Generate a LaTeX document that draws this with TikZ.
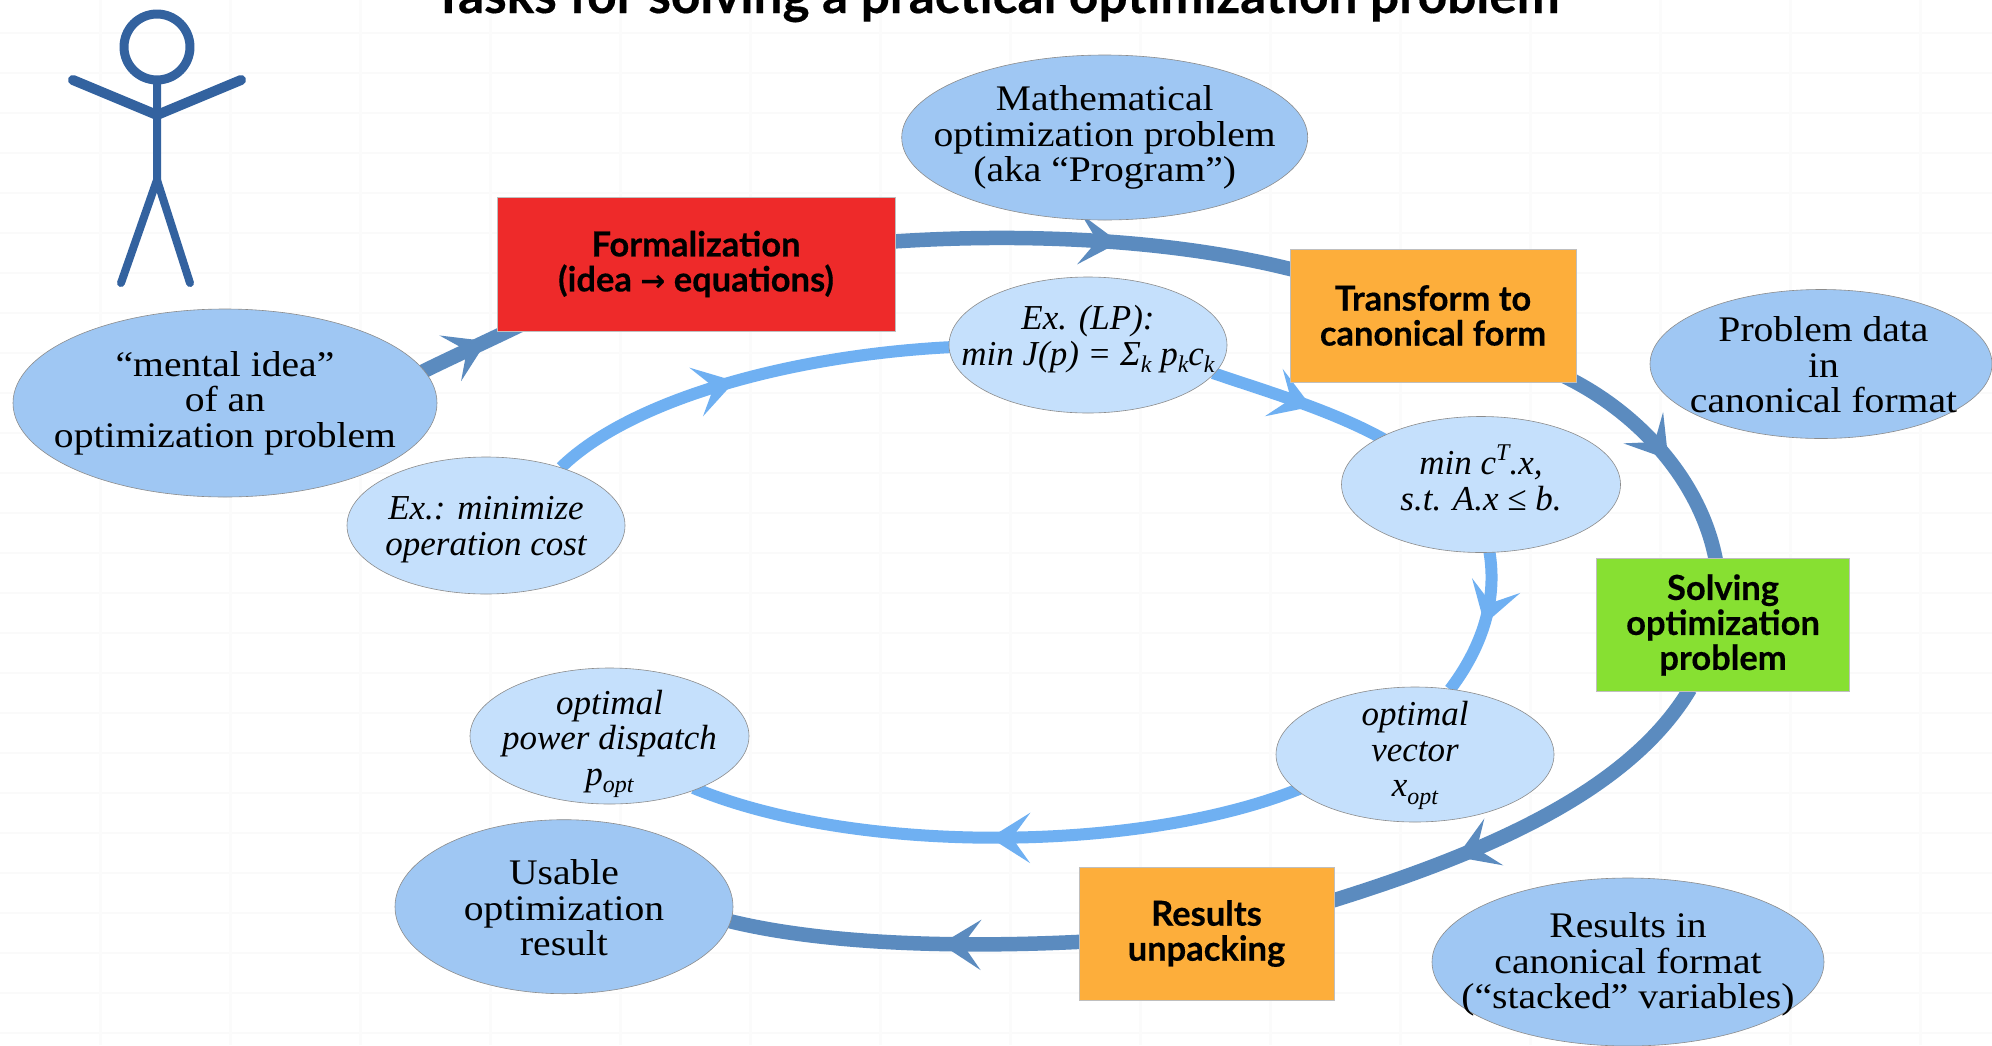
\documentclass[tikz,border=0pt]{standalone}
\usepackage{fontspec}
\setmainfont{Liberation Serif}
\newfontfamily\boxfont{Lato}[BoldFeatures={FakeBold=0.35}]
\newfontfamily\arrowfont{DejaVu Sans}
\newfontfamily\romanwide{Liberation Serif}[FakeStretch=1.1]
\usetikzlibrary{shapes.geometric,arrows.meta,decorations.markings,calc}
\pgfdeclarelayer{conn}
\pgfsetlayers{conn,main}
\definecolor{ellDark}{HTML}{9FC7F3}
\definecolor{ellLight}{HTML}{C5E0FC}
\definecolor{edgeDark}{HTML}{5B8BBF}
\definecolor{edgeLight}{HTML}{6FB0F2}
\definecolor{manBlue}{HTML}{33629F}
\definecolor{boxRed}{HTML}{EE2A2A}
\definecolor{boxOrange}{HTML}{FDAE3B}
\definecolor{boxGreen}{HTML}{87E032}
\newcommand{\lsub}[1]{\raisebox{-0.22em}{\fontsize{24}{24}\selectfont #1}}
\newcommand{\lsup}[1]{\raisebox{0.42em}{\fontsize{24}{24}\selectfont #1}}
\tikzset{
  ellbase/.style={ellipse,draw=black!45,line width=0.6pt,inner sep=0pt},
  elldark/.style={ellbase,fill=ellDark},
  elllight/.style={ellbase,fill=ellLight},
  elltext/.style={align=center,inner sep=0pt,font=\romanwide\fontsize{36}{35.5}\selectfont},
  elltextit/.style={align=center,inner sep=0pt,font=\fontsize{35}{35.5}\selectfont\itshape},
  taskbox/.style={rectangle,draw=black!25,line width=0.7pt,align=center,inner sep=0pt,
    font=\boxfont\bfseries\fontsize{34.5}{35}\selectfont},
  flowhead/.style={decoration={markings,mark=at position #1 with
    {\arrow{Stealth[length=40pt,width=50pt,inset=18pt]}}}},
  darkflow/.style={draw=edgeDark,line width=14.5pt,flowhead=#1,postaction={decorate}},
  lightflow/.style={draw=edgeLight,line width=12pt,flowhead=#1,postaction={decorate}},
  manline/.style={draw=manBlue,line cap=round,line join=round}
}
\begin{document}
\begin{tikzpicture}[x=1pt,y=-1pt]
\useasboundingbox (0,0) rectangle (1992,1045);
\begin{pgfonlayer}{conn}
  \fill[white] (0,0) rectangle (1992,1045);
  \foreach \yy in {33,73,...,1033} \draw[color=black!2,line width=2.5pt] (0,\yy) -- (1992,\yy);
  \foreach \xx in {100,230,...,1950} \draw[color=black!1.5,line width=3pt] (\xx,0) -- (\xx,1045);
\end{pgfonlayer}

% title
\node[anchor=base,inner sep=0pt,font=\boxfont\bfseries\fontsize{51.4}{55}\selectfont] (title) at (996,13)
  {Tasks for solving a practical optimization problem};

% stick figure
\draw[manline,line width=9pt] (157,47) circle[radius=33];
\draw[manline,line width=8pt] (157,82) -- (157,180) -- (121,283);
\draw[manline,line width=8pt] (157,180) -- (190,283);
\draw[manline,line width=10pt] (73,80) -- (157,115) -- (241,80);

% ellipses
\node[elldark,minimum width=424pt,minimum height=188pt,label={[elltext]center:{“mental idea”\\of an\\optimization problem}}] (mental) at (225,403) {};
\node[elldark,minimum width=406pt,minimum height=165pt,label={[elltext]center:{Mathematical\\optimization problem\\(aka “Program”)}}] (program) at (1104.7,137.5) {};
\node[elldark,minimum width=342pt,minimum height=149pt,label={[elltext,xshift=2.5pt,yshift=-1pt]center:{Problem data\\in\\canonical format}}] (pdata) at (1821,364) {};
\node[elldark,minimum width=338pt,minimum height=174pt,label={[elltext,yshift=-1pt]center:{Usable\\optimization\\result}}] (usable) at (564,906.7) {};
\node[elldark,minimum width=392pt,minimum height=168pt,label={[elltext,yshift=-2.5pt]center:{Results in\\canonical format\\(“stacked” variables)}}] (rescan) at (1628,962) {};

\node[elllight,minimum width=278pt,minimum height=137pt,label={[elltextit,yshift=-4pt]center:{Ex.: minimize\\operation cost}}] (exmin) at (486,525.5) {};
\node[elllight,minimum width=278pt,minimum height=136pt,label={[elltextit,yshift=6pt]center:{Ex. (LP):\\min J(p) = Σ\lsub{k} p\lsub{k}c\lsub{k}}}] (exlp) at (1088,345) {};
\node[elllight,minimum width=279pt,minimum height=136pt,label={[elltextit,yshift=7pt]center:{min c\lsup{T}.x,\\s.t. A.x ≤ b.}}] (canon) at (1481,484.5) {};
\node[elllight,minimum width=278pt,minimum height=135pt,label={[elltextit,yshift=-1pt]center:{optimal\\vector\\x\lsub{opt}}}] (xopt) at (1415,754.5) {};
\node[elllight,minimum width=279pt,minimum height=136pt,label={[elltextit,yshift=-8pt]center:{optimal\\power dispatch\\p\lsub{opt}}}] (popt) at (609.5,736) {};

% task boxes
\node[taskbox,fill=boxRed,minimum width=398pt,minimum height=134pt] (form) at (696,264)
  {Formalization\\(idea {\arrowfont\bfseries\fontsize{30}{30}\selectfont →} equations)};
\node[taskbox,fill=boxOrange,minimum width=286pt,minimum height=133pt] (transform) at (1433,315.5)
  {Transform to\\canonical form};
\node[taskbox,fill=boxGreen,minimum width=253pt,minimum height=133pt] (solve) at (1723,625)
  {Solving\\optimization\\problem};
\node[taskbox,fill=boxOrange,minimum width=255pt,minimum height=133pt] (unpack) at (1206.5,933.5)
  {Results\\unpacking};

% connectors
\begin{pgfonlayer}{conn}
\draw[darkflow=0.58] ([shift={(195,-30)}]mental.center) .. controls (450,358) and (490,340) .. ([shift={(-161,54)}]form.center);
\draw[darkflow=0.56] ([shift={(190,-22)}]form.center) .. controls (1030,232) and (1180,240) .. ([shift={(-133,-44)}]transform.center);
\draw[darkflow=0.56] ([shift={(122,56.5)}]transform.center) .. controls (1630,405) and (1700,475) .. ([shift={(-7,-64)}]solve.center);
\draw[darkflow=0.68] ([shift={(-33,64)}]solve.center) .. controls (1630,790) and (1490,852) .. ([shift={(120,-31)}]unpack.center);
\draw[darkflow=0.40] ([shift={(-120,8)}]unpack.center) .. controls (980,947) and (830,947) .. ([shift={(160,13)}]usable.center);
\draw[lightflow=0.47] ([shift={(75,-58)}]exmin.center) .. controls (630,400) and (790,355) .. ([shift={(-135,2)}]exlp.center);
\draw[lightflow=0.56] ([shift={(125,28)}]exlp.center) .. controls (1262,390) and (1332,410) .. ([shift={(-95,-44)}]canon.center);
\draw[lightflow=0.52] ([shift={(7,60)}]canon.center) .. controls (1500,600) and (1480,650) .. ([shift={(35,-65)}]xopt.center);
\draw[lightflow=0.515] ([shift={(-110,32)}]xopt.center) .. controls (1150,852) and (860,857) .. ([shift={(84,52)}]popt.center);
\end{pgfonlayer}
\end{tikzpicture}
\end{document}
